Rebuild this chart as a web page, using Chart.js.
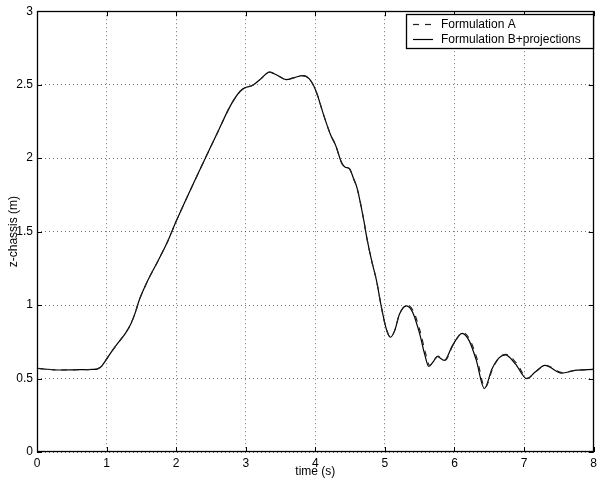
<!DOCTYPE html>
<html>
<head>
<meta charset="utf-8">
<script src="https://cdn.jsdelivr.net/npm/chart.js@4/dist/chart.umd.min.js"></script>
<style>
html,body{margin:0;padding:0;background:#fff;}
#wrap{position:relative;width:601px;height:479px;}
</style>
</head>
<body>
<div id="wrap"><canvas id="c" width="601" height="479"></canvas></div>
<script>
// ---- data ----
const timeB = [0.00,0.15,0.30,0.50,0.70,0.80,0.87,0.93,0.99,1.06,1.135,1.21,1.277,1.348,1.41,1.466,1.585,1.727,1.879,2.00,2.30,2.60,2.75,2.84,2.92,2.985,3.10,3.22,3.34,3.46,3.58,3.70,3.815,3.91,4.005,4.12,4.22,4.29,4.38,4.43,4.49,4.55,4.60,4.69,4.74,4.81,4.88,4.95,5.02,5.08,5.14,5.21,5.31,5.40,5.50,5.57,5.63,5.69,5.75,5.855,5.97,6.11,6.21,6.31,6.43,6.54,6.64,6.73,6.875,7.04,7.16,7.30,7.54,7.73,8.00];
const zB = [0.570,0.563,0.558,0.559,0.561,0.562,0.566,0.585,0.625,0.675,0.724,0.770,0.812,0.871,0.945,1.029,1.160,1.290,1.435,1.570,1.880,2.180,2.330,2.405,2.455,2.478,2.496,2.541,2.586,2.562,2.534,2.548,2.562,2.541,2.462,2.293,2.158,2.090,1.966,1.938,1.928,1.860,1.796,1.593,1.458,1.300,1.165,0.984,0.837,0.781,0.826,0.939,0.995,0.950,0.804,0.668,0.582,0.611,0.650,0.623,0.724,0.808,0.758,0.630,0.432,0.567,0.641,0.661,0.600,0.499,0.544,0.589,0.537,0.555,0.562];
const timeA = [0.00,0.15,0.30,0.50,0.70,0.80,0.87,0.93,0.99,1.06,1.135,1.21,1.277,1.348,1.41,1.466,1.585,1.727,1.879,2.00,2.30,2.60,2.75,2.84,2.92,2.985,3.10,3.22,3.34,3.46,3.58,3.70,3.815,3.91,4.005,4.12,4.22,4.29,4.38,4.43,4.49,4.55,4.60,4.69,4.74,4.81,4.88,4.95,5.02,5.08,5.14,5.21,5.32,5.41,5.51,5.58,5.64,5.70,5.76,5.865,5.98,6.12,6.22,6.32,6.44,6.55,6.65,6.74,6.885,7.05,7.17,7.31,7.55,7.74,8.00];
const zA = [0.570,0.563,0.558,0.559,0.561,0.562,0.566,0.585,0.625,0.675,0.724,0.770,0.812,0.871,0.945,1.029,1.160,1.290,1.435,1.570,1.880,2.180,2.330,2.405,2.455,2.478,2.496,2.541,2.586,2.562,2.534,2.548,2.562,2.541,2.462,2.293,2.158,2.090,1.966,1.938,1.928,1.860,1.796,1.593,1.458,1.300,1.165,0.984,0.837,0.781,0.826,0.939,1.000,0.958,0.815,0.680,0.590,0.615,0.652,0.625,0.728,0.812,0.765,0.640,0.438,0.570,0.645,0.665,0.608,0.503,0.547,0.590,0.540,0.556,0.563];
const xTicks = [0,1,2,3,4,5,6,7,8];
const yTicks = [0,0.5,1,1.5,2,2.5,3];
const seriesNames = ['Formulation A','Formulation B+projections'];
const xTitle = 'time (s)';
const yTitle = 'z-chassis (m)';

const FONT = 'Liberation Sans, Arial, Helvetica, sans-serif';
const pts = (t, z) => t.map((v, i) => ({x: v, y: z[i]}));

const framePlugin = {
  id: 'frame',
  afterDatasetsDraw(chart) {
    const {ctx, chartArea: a, scales} = chart;
    ctx.save();
    ctx.strokeStyle = '#000';
    ctx.lineWidth = 1;
    ctx.setLineDash([]);
    ctx.beginPath();
    const L = 5;
    xTicks.forEach(v => {
      const px = Math.round(scales.x.getPixelForValue(v)) + 0.5;
      ctx.moveTo(px, a.bottom); ctx.lineTo(px, a.bottom - L);
      ctx.moveTo(px, a.top); ctx.lineTo(px, a.top + L);
    });
    yTicks.forEach(v => {
      const py = Math.round(scales.y.getPixelForValue(v)) + 0.5;
      ctx.moveTo(a.left, py); ctx.lineTo(a.left + L, py);
      ctx.moveTo(a.right, py); ctx.lineTo(a.right - L, py);
    });
    ctx.stroke();
    ctx.lineWidth = 1.3;
    ctx.strokeRect(Math.round(a.left) + 0.5, Math.round(a.top) + 0.5, Math.round(a.right - a.left) - 1, Math.round(a.bottom - a.top) - 1);

    // legend box
    const bx = 406, by = 14, bw = 187, bh = 34;
    ctx.fillStyle = '#fff';
    ctx.fillRect(bx, by, bw, bh);
    ctx.lineWidth = 1.3;
    ctx.strokeRect(bx + 0.5, by + 0.5, bw, bh);
    ctx.font = '12px ' + FONT;
    ctx.textBaseline = 'middle';
    ctx.textAlign = 'left';
    chart.data.datasets.forEach((ds, i) => {
      const y = by + 10 + i * 15 + 0.5;
      ctx.strokeStyle = ds.borderColor;
      ctx.lineWidth = ds.borderWidth;
      ctx.setLineDash(ds.borderDash || []);
      ctx.beginPath();
      ctx.moveTo(413, y); ctx.lineTo(433, y);
      ctx.stroke();
      ctx.setLineDash([]);
      ctx.fillStyle = '#000';
      ctx.fillText(ds.label, 441, y);
    });
    ctx.restore();
  }
};

const bgPlugin = {
  id: 'bg',
  beforeDraw(chart) {
    const ctx = chart.ctx;
    ctx.save();
    ctx.fillStyle = '#fff';
    ctx.fillRect(0, 0, chart.width, chart.height);
    ctx.restore();
  }
};

new Chart(document.getElementById('c'), {
  type: 'line',
  data: {
    datasets: [
      {label: seriesNames[0], data: pts(timeA, zA), borderColor: '#222', borderWidth: 1.2, borderDash: [6,6], pointRadius: 0, cubicInterpolationMode: 'monotone', fill: false},
      {label: seriesNames[1], data: pts(timeB, zB), borderColor: '#000', borderWidth: 1.2, pointRadius: 0, cubicInterpolationMode: 'monotone', fill: false}
    ]
  },
  options: {
    responsive: false,
    animation: false,
    devicePixelRatio: 1,
    layout: {padding: {top: 9, right: 2, left: 0, bottom: 0}},
    plugins: {legend: {display: false}, tooltip: {enabled: false}},
    scales: {
      x: {
        type: 'linear', min: 0, max: 8,
        afterBuildTicks: s => { s.ticks = xTicks.map(v => ({value: v})); },
        afterFit: s => { s.height = 27; },
        ticks: {color: '#000', font: {size: 12, family: FONT}, padding: 4, maxRotation: 0, autoSkip: false, callback: v => String(v)},
        grid: {color: 'rgba(0,0,0,0.55)', drawTicks: false, lineWidth: 1},
        border: {display: false, dash: [1,3]},
        title: {display: true, text: xTitle, color: '#000', font: {size: 12, family: FONT}, padding: {top: 0, bottom: 0}}
      },
      y: {
        type: 'linear', min: 0, max: 3,
        afterBuildTicks: s => { s.ticks = yTicks.map(v => ({value: v})); },
        afterFit: s => { s.width = 37; },
        ticks: {color: '#000', font: {size: 12, family: FONT}, padding: 4, autoSkip: false, callback: v => String(v)},
        grid: {color: 'rgba(0,0,0,0.55)', drawTicks: false, lineWidth: 1},
        border: {display: false, dash: [1,3]},
        title: {display: true, text: yTitle, color: '#000', font: {size: 12, family: FONT}, padding: {top: 6, bottom: 0}}
      }
    }
  },
  plugins: [bgPlugin, framePlugin]
});
</script>
</body>
</html>
